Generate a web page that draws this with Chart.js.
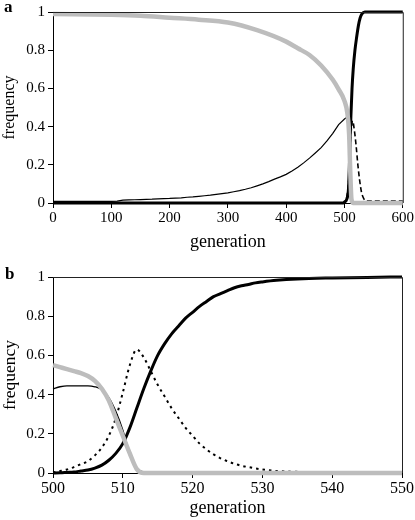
<!DOCTYPE html>
<html>
<head>
<meta charset="utf-8">
<script src="https://cdn.jsdelivr.net/npm/chart.js@4.4.0/dist/chart.umd.min.js"></script>
<style>
  html, body { margin: 0; padding: 0; background: #fff; }
  #wrap { position: relative; width: 415px; height: 520px; }
  .pane { position: absolute; left: 0; width: 415px; height: 260px; }
  .lab { position: absolute; font-family: "Liberation Serif", serif; font-weight: bold; font-size: 17px; color: #000; }
</style>
</head>
<body>
<div id="wrap">
  <div class="pane" style="top:0"><canvas id="ca" width="415" height="260"></canvas></div>
  <div class="pane" style="top:260px"><canvas id="cb" width="415" height="260"></canvas></div>
  <div class="lab" style="left:4px; top:-3px">a</div>
  <div class="lab" style="left:5px; top:264px">b</div>
</div>
<script>
// ---------- Panel a data ----------
const aGreyGen   = [0, 100, 150, 200, 250, 300, 350, 400, 420, 440, 460, 480, 490, 500, 505, 508, 510, 512, 515, 600];
const aGreyFreq  = [0.99, 0.985, 0.98, 0.97, 0.96, 0.945, 0.905, 0.845, 0.81, 0.775, 0.72, 0.645, 0.595, 0.535, 0.47, 0.36, 0.16, 0.02, 0, 0];

const aThinGen   = [0, 10, 20, 30, 40, 50, 60, 70, 80, 90, 100, 110, 120, 130, 140, 150, 160, 170, 180, 190, 200, 210, 220, 230, 240, 250, 260, 270, 280, 290, 300, 310, 320, 330, 340, 350, 360, 370, 380, 390, 400, 410, 420, 430, 440, 450, 460, 470, 480, 490, 500, 505, 508, 510, 512, 514, 516, 600];
const aThinFreq  = [0.008, 0.008, 0.008, 0.008, 0.008, 0.008, 0.008, 0.008, 0.008, 0.009, 0.009, 0.01, 0.015, 0.016, 0.017, 0.018, 0.019, 0.02, 0.022, 0.023, 0.024, 0.026, 0.027, 0.03, 0.032, 0.035, 0.038, 0.041, 0.045, 0.049, 0.053, 0.059, 0.065, 0.072, 0.08, 0.09, 0.1, 0.112, 0.125, 0.137, 0.15, 0.168, 0.187, 0.21, 0.235, 0.262, 0.29, 0.325, 0.365, 0.41, 0.44, 0.45, 0.42, 0.25, 0.05, 0.005, 0, 0];

const aThickGen  = [0, 498, 500, 504, 507, 509, 511, 513, 515, 518, 521, 524, 527, 530, 535, 600];
const aThickFreq = [0, 0, 0.005, 0.02, 0.08, 0.25, 0.45, 0.6, 0.7, 0.8, 0.87, 0.93, 0.97, 0.99, 1, 1];

const aDashGen   = [495, 500, 505, 508, 511, 514, 517, 520, 523, 526, 529, 532, 535, 540, 600];
const aDashFreq  = [0, 0.005, 0.05, 0.15, 0.35, 0.43, 0.38, 0.3, 0.2, 0.12, 0.06, 0.03, 0.015, 0.01, 0.01];

const aXTicks = [0, 100, 200, 300, 400, 500, 600];

// ---------- Panel b data ----------
const bGreyGen   = [500, 501, 502, 503, 504, 505, 506, 507, 508, 509, 510, 511, 512, 513, 550];
const bGreyFreq  = [0.55, 0.54, 0.53, 0.52, 0.51, 0.495, 0.47, 0.43, 0.37, 0.28, 0.19, 0.1, 0.02, 0, 0];

const bThinGen   = [500, 501, 502, 503, 504, 505, 506, 507, 508, 509, 510, 511, 512, 513, 514, 550];
const bThinFreq  = [0.43, 0.44, 0.445, 0.445, 0.445, 0.445, 0.44, 0.425, 0.385, 0.315, 0.22, 0.1, 0.025, 0.005, 0, 0];

const bThickGen  = [500, 501, 502, 503, 504, 505, 506, 507, 508, 509, 510, 511, 512, 513, 514, 515, 516, 517, 518, 519, 520, 521, 522, 523, 524, 525, 526, 527, 528, 529, 530, 532, 535, 540, 545, 550];
const bThickFreq = [0, 0.001, 0.003, 0.005, 0.01, 0.015, 0.025, 0.04, 0.065, 0.1, 0.15, 0.23, 0.33, 0.43, 0.52, 0.6, 0.66, 0.71, 0.75, 0.79, 0.82, 0.85, 0.875, 0.9, 0.915, 0.93, 0.945, 0.955, 0.962, 0.97, 0.975, 0.983, 0.99, 0.995, 0.998, 1];

const bDotGen    = [500, 501, 502, 503, 504, 505, 506, 507, 508, 509, 510, 511, 512, 513, 514, 515, 516, 517, 518, 519, 520, 521, 522, 523, 524, 525, 526, 527, 528, 530, 532, 535, 540, 545, 550];
const bDotFreq   = [0.003, 0.01, 0.018, 0.03, 0.045, 0.06, 0.09, 0.13, 0.19, 0.28, 0.41, 0.55, 0.63, 0.59, 0.52, 0.45, 0.39, 0.33, 0.28, 0.23, 0.19, 0.15, 0.12, 0.095, 0.075, 0.06, 0.047, 0.037, 0.03, 0.018, 0.01, 0.006, 0.004, 0.003, 0.003];

const bXTicks = [500, 510, 520, 530, 540, 550];
const yTicks  = [0, 0.2, 0.4, 0.6, 0.8, 1];

// ---------- helpers ----------
const pts = (xs, ys) => xs.map((x, i) => ({ x: x, y: ys[i] }));
const GREY = '#bdbdbd';
const SERIF = '"Liberation Serif", "Times New Roman", serif';

const frame = {
  id: 'frame',
  afterDatasetsDraw(chart) {
    const a = chart.chartArea, c = chart.ctx;
    c.save();
    c.strokeStyle = '#222';
    c.lineWidth = 1;
    c.beginPath();
    c.moveTo(a.left, a.top + 0.5);
    c.lineTo(a.right + 0.5, a.top + 0.5);
    c.lineTo(a.right + 0.5, a.bottom);
    c.stroke();
    c.restore();
  }
};

function makeChart(id, cfg) {
  return new Chart(document.getElementById(id), {
    type: 'line',
    data: { datasets: cfg.datasets },
    options: {
      responsive: false,
      animation: false,
      events: [],
      layout: { padding: { top: cfg.padTop, right: 12, left: 0, bottom: 0 } },
      plugins: { legend: { display: false }, tooltip: { enabled: false } },
      elements: { point: { radius: 0 } },
      scales: {
        x: {
          type: 'linear',
          min: cfg.xmin, max: cfg.xmax,
          afterBuildTicks: s => { s.ticks = cfg.xticks.map(v => ({ value: v })); },
          afterFit: s => { s.height = cfg.xHeight; },
          grid: { drawOnChartArea: false, drawTicks: true, tickLength: 5, tickColor: '#000' },
          border: { display: true, color: '#000', width: 1 },
          ticks: { color: '#000', font: { family: SERIF, size: cfg.xTickSize }, padding: 1, maxRotation: 0 },
          title: { display: true, text: 'generation', color: '#000', font: { family: SERIF, size: 18 }, padding: { top: 0, bottom: cfg.titlePadB } }
        },
        y: {
          min: 0, max: 1,
          afterBuildTicks: s => { s.ticks = yTicks.map(v => ({ value: v })); },
          afterFit: s => { s.width = 53; },
          grid: { drawOnChartArea: false, drawTicks: true, tickLength: 5, tickColor: '#000' },
          border: { display: true, color: '#000', width: 1 },
          ticks: { color: '#000', font: { family: SERIF, size: 15 }, padding: 3, callback: v => String(v) },
          title: { display: true, text: 'frequency', color: '#000', font: { family: SERIF, size: cfg.yTitleSize }, padding: { top: 0, bottom: 2 } }
        }
      }
    },
    plugins: [frame]
  });
}

makeChart('ca', {
  padTop: 7, xHeight: 57, xmin: 0, xmax: 600, xticks: aXTicks, xTickSize: 15, yTitleSize: 16, titlePadB: 7,
  datasets: [
    { data: pts(aGreyGen, aGreyFreq), borderColor: GREY, borderWidth: 4.5, cubicInterpolationMode: 'monotone', clip: 4 },
    { data: pts(aThinGen, aThinFreq), borderColor: '#000', borderWidth: 1.2, clip: 4 },
    { data: pts(aDashGen, aDashFreq), borderColor: '#000', borderWidth: 1.6, borderDash: [5, 3], cubicInterpolationMode: 'monotone', clip: 4 },
    { data: pts(aThickGen, aThickFreq), borderColor: '#000', borderWidth: 3, cubicInterpolationMode: 'monotone', clip: 4 }
  ]
});

makeChart('cb', {
  padTop: 17, xHeight: 47, xmin: 500, xmax: 550, xticks: bXTicks, xTickSize: 16, yTitleSize: 17.5, titlePadB: 1,
  datasets: [
    { data: pts(bGreyGen, bGreyFreq), borderColor: GREY, borderWidth: 4.5, cubicInterpolationMode: 'monotone', clip: 4 },
    { data: pts(bThinGen, bThinFreq), borderColor: '#000', borderWidth: 1.3, cubicInterpolationMode: 'monotone', clip: 4 },
    { data: pts(bDotGen, bDotFreq), borderColor: '#000', borderWidth: 2, borderDash: [2.5, 4], cubicInterpolationMode: 'monotone', clip: 4 },
    { data: pts(bThickGen, bThickFreq), borderColor: '#000', borderWidth: 3, cubicInterpolationMode: 'monotone', clip: 4 }
  ]
});
</script>
</body>
</html>
